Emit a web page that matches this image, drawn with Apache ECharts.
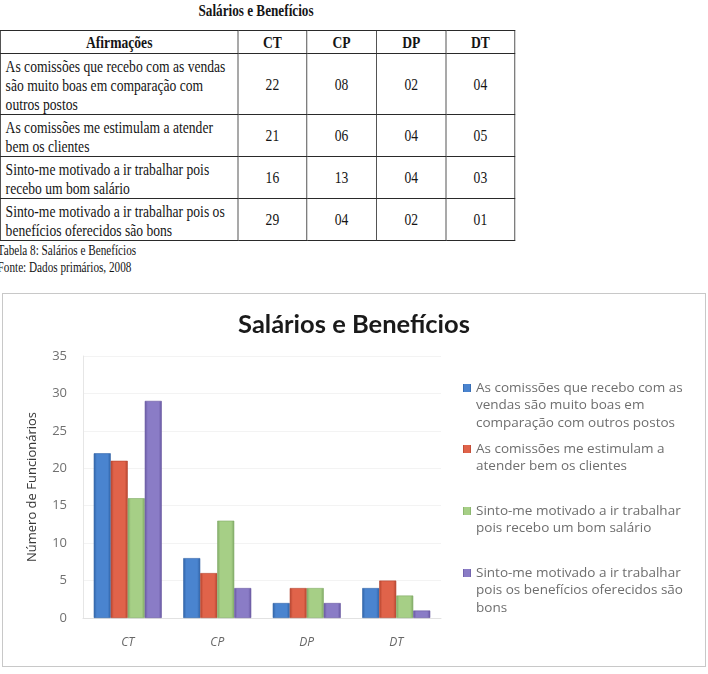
<!DOCTYPE html>
<html><head><meta charset="utf-8">
<script src="https://cdn.jsdelivr.net/npm/echarts@6/dist/echarts.min.js"></script>
<style>
html,body{margin:0;padding:0;background:#fff;width:708px;height:674px;overflow:hidden;}
#doc{position:absolute;left:0;top:0;width:650px;height:290px;transform:scaleX(0.8);transform-origin:0 0;font-family:"Liberation Serif","Times New Roman",serif;color:#151515;}
#ttl{position:absolute;left:0;top:1px;width:640px;text-align:center;font-weight:bold;font-size:16.5px;}
#tbl{position:absolute;left:0;top:30px;border-collapse:collapse;table-layout:fixed;font-size:17px;line-height:19px;}
#tbl td,#tbl th{border:1px solid #2a2a2a;padding:0;}
#tbl th{height:22px;font-weight:bold;text-align:center;vertical-align:middle;}
#tbl td.st{padding:3px 0 0 6px;vertical-align:top;white-space:nowrap;}
#tbl td.nm{text-align:center;vertical-align:middle;}
#cap{position:absolute;left:-3px;top:242px;font-size:14px;line-height:17px;white-space:nowrap;}
#box{position:absolute;left:2px;top:293px;width:704px;height:374px;border:1px solid #c8c8c8;box-sizing:border-box;}
#chart{position:absolute;left:3px;top:294px;width:702px;height:372px;}
</style></head>
<body>
<div id="doc">
  <div id="ttl">Salários e Benefícios</div>
  <table id="tbl"></table>
  <div id="cap">Tabela 8: Salários e Benefícios<br>Fonte: Dados primários, 2008</div>
</div>
<div id="box"></div>
<div id="chart"></div>
<script>
// ---- data ----
const categories = ['CT', 'CP', 'DP', 'DT'];
const statements = [
  'As comissões que recebo com as vendas são muito boas em comparação com outros postos',
  'As comissões me estimulam a atender bem os clientes',
  'Sinto-me motivado a ir trabalhar pois recebo um bom salário',
  'Sinto-me motivado a ir trabalhar pois os benefícios oferecidos são bons'
];
const tableStatementLines = [
  ['As comissões que recebo com as vendas', 'são muito boas em comparação com', 'outros postos'],
  ['As comissões me estimulam a atender', 'bem os clientes'],
  ['Sinto-me motivado a ir trabalhar pois', 'recebo um bom salário'],
  ['Sinto-me motivado a ir trabalhar pois os', 'benefícios oferecidos são bons']
];
const legendLines = [
  ['As comissões que recebo com as', 'vendas são muito boas em', 'comparação com outros postos'],
  ['As comissões me estimulam a', 'atender bem os clientes'],
  ['Sinto-me motivado a ir trabalhar', 'pois recebo um bom salário'],
  ['Sinto-me motivado a ir trabalhar', 'pois os benefícios oferecidos são', 'bons']
];
const comissoesVendas   = [22, 8, 2, 4];
const comissoesClientes = [21, 6, 4, 5];
const bomSalario        = [16, 13, 4, 3];
const beneficios        = [29, 4, 2, 1];
const seriesValues = [comissoesVendas, comissoesClientes, bomSalario, beneficios];
const yMin = 0, yMax = 35, yStep = 5;
const headerCells = ['Afirmações'].concat(categories);

// ---- table (text) ----
const colW = [297, 86, 87, 87, 86];
const rowH = [61, 41, 40, 41];
let html = '<colgroup>' + colW.map(w => '<col style="width:' + w + 'px">').join('') + '</colgroup>';
html += '<tr>' + headerCells.map(h => '<th>' + h + '</th>').join('') + '</tr>';
statements.forEach((s, i) => {
  html += '<tr style="height:' + rowH[i] + 'px"><td class="st">' + tableStatementLines[i].join('<br>') + '</td>' +
    seriesValues[i].map(v => '<td class="nm">' + String(v).padStart(2, '0') + '</td>').join('') + '</tr>';
});
document.getElementById('tbl').innerHTML = html;

// ---- chart ----
const colors = ['#4a84cf', '#e0634a', '#a6cf86', '#8a7cc6'];
const dark = ['#2f62a6', '#b4432e', '#7fa965', '#6656a0'];
const LH = 17.5;
const firstLineY = [94, 155, 217, 279];

function legendIcon(n) {
  const H = n * LH;
  const y0 = LH / 2 - 4;
  return 'path://M0,0h0.01v0.01h-0.01z' +
    'M0,' + y0 + 'h8v8h-8z' +
    'M0,' + (H - 0.01) + 'h0.01v0.01h-0.01z';
}

const chart = echarts.init(document.getElementById('chart'), null, {renderer: 'canvas'});
chart.setOption({
  animation: false,
  backgroundColor: '#fff',
  title: {
    text: 'Salários e Benefícios', left: 'center', top: 13,
    textStyle: {fontFamily: 'Lato', fontWeight: 'bold', fontSize: 25.5, color: '#1a1a1a'}
  },
  grid: {left: 80, top: 62, width: 358, height: 262, containLabel: false},
  legend: statements.map((s, i) => {
    const n = legendLines[i].length;
    return {
      data: [s], left: 460, top: firstLineY[i] - LH / 2,
      orient: 'vertical', padding: 0, itemGap: 0, itemWidth: 8, itemHeight: n * LH,
      icon: legendIcon(n),
      itemStyle: {borderWidth: 0},
      selectedMode: false,
      formatter: () => legendLines[i].join('\n'),
      textStyle: {fontFamily: 'Open Sans', fontSize: 13.5, color: '#6e6e6e', lineHeight: LH}
    };
  }),
  xAxis: {
    type: 'category', data: categories,
    axisLine: {lineStyle: {color: '#e2e2e2'}},
    axisTick: {show: false},
    axisLabel: {margin: 19, color: '#666', fontSize: 12, fontStyle: 'italic', fontFamily: 'Open Sans'}
  },
  yAxis: {
    type: 'value', min: yMin, max: yMax, interval: yStep,
    name: 'Número de Funcionários', nameLocation: 'middle', nameGap: 44,
    nameTextStyle: {fontFamily: 'Open Sans', fontSize: 13, color: '#383838'},
    axisLine: {show: true, lineStyle: {color: '#e6e6e6'}},
    axisTick: {show: false},
    splitLine: {lineStyle: {color: '#f3f3f3'}},
    axisLabel: {margin: 16, color: '#707070', fontSize: 13, fontFamily: 'Open Sans'}
  },
  series: statements.map((s, i) => ({
    name: s, type: 'bar', data: seriesValues[i],
    barGap: '0%', barCategoryGap: '24%',
    itemStyle: {
      color: new echarts.graphic.LinearGradient(0, 0, 1, 0, [
        {offset: 0, color: dark[i]}, {offset: 0.18, color: colors[i]},
        {offset: 0.82, color: colors[i]}, {offset: 1, color: dark[i]}
      ]),
      borderColor: dark[i], borderWidth: 0.6
    }
  }))
});
</script>
</body></html>
